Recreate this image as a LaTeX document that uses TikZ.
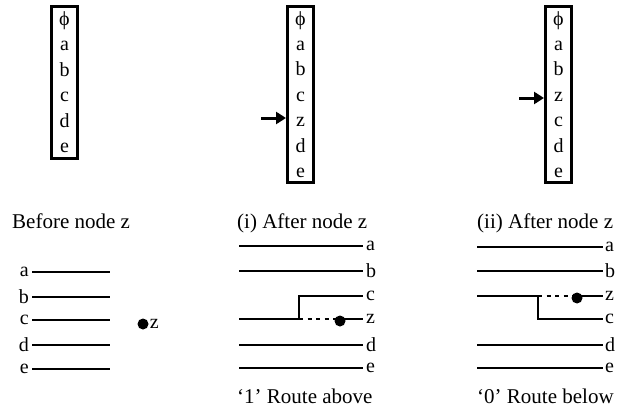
\documentclass[tikz,border=0pt]{standalone}
\usepackage{fontspec}
\setmainfont{Liberation Serif}
\usetikzlibrary{arrows.meta}
\begin{document}
\begin{tikzpicture}[x=1pt,y=-1pt,
  font=\fontsize{20}{22}\selectfont,
  stack/.style={draw,line width=3pt,minimum width=26pt,inner sep=0pt},
  letter/.style={anchor=base,inner sep=0pt},
  wire/.style={line width=2.7pt},
  jump/.style={line width=2.7pt,dash pattern=on 4pt off 4.5pt},
  lbl/.style={inner sep=3pt},
  caption/.style={anchor=base west,inner sep=0pt,font=\fontsize{21}{23}\selectfont},
  pin/.style={-{Triangle[length=10pt,width=12pt]},line width=3pt},
  dot/.style={circle,fill,inner sep=0pt,minimum size=11pt}]
\useasboundingbox (0,0) rectangle (624,412);

% ---- ordering stacks ----
\node[stack,minimum height=151pt] (box1) at (64.5,82.5) {};
\foreach \t/\n/\y in {ϕ/phi/26,a/a/51,b/b/76.5,c/c/101.5,d/d/127,e/e/152}
  \node[letter] (s1\n) at (64.5,\y) {\t};

\node[stack,minimum height=175pt] (box2) at (300.5,94.5) {};
\foreach \t/\n/\y in {ϕ/phi/25.5,a/a/50.5,b/b/76,c/c/101,z/z/126.5,d/d/152,e/e/177}
  \node[letter] (s2\n) at (300.5,\y) {\t};
\coordinate (t2) at (261,118);
\draw[pin] (t2) -- (t2 -| box2.west);

\node[stack,minimum height=175pt] (box3) at (558.5,94.5) {};
\foreach \t/\n/\y in {ϕ/phi/25.5,a/a/50.5,b/b/76,z/z/101,c/c/126.5,d/d/152,e/e/177}
  \node[letter] (s3\n) at (558.5,\y) {\t};
\coordinate (t3) at (519,98);
\draw[pin] (t3) -- (t3 -| box3.west);

% ---- before node z ----
\node[caption] (capA) at (12,228) {Before node z};
\foreach \n/\y in {a/272,b/297,c/320,d/345,e/369}{
  \coordinate (l\n) at (32,\y);
  \coordinate (r\n) at (110,\y);
  \node[lbl,anchor=east] (L\n) at (l\n) {\n};
  \draw[wire] (l\n) -- (r\n);
}
\node[dot] (zdot) at (143,324) {};
\node[lbl,anchor=west,inner sep=1pt] (zlbl) at (zdot.east) {z};

% ---- (i) after node z: route above ----
\node[caption] (capB) at (237,228) {(i) After node z};
\foreach \n/\y in {a/246,b/271,c/296,z/319,d/345,e/368}{
  \coordinate (ml\n) at (239,\y);
  \coordinate (mr\n) at (363,\y);
  \node[lbl,anchor=west] (M\n) at (mr\n) {\n};
}
\foreach \n in {a,b,d,e} \draw[wire] (ml\n) -- (mr\n);
\coordinate (mk) at (299,319);
\node[dot] (mdot) at (340,321) {};
\draw[wire] (mlz) -- (mk) |- (mrc);
\draw[jump] (mk) -- (mk -| mdot);
\draw[wire] (mk -| mdot) -- (mrz);

\node[caption] (capC) at (237,403) {‘1’ Route above};

% ---- (ii) after node z: route below ----
\node[caption] (capD) at (477,228) {(ii) After node z};
\foreach \n/\y in {a/247,b/271,z/296,c/319,d/345,e/368}{
  \coordinate (rl\n) at (477,\y);
  \coordinate (rr\n) at (603,\y);
  \node[lbl,anchor=west,inner sep=2pt] (R\n) at (rr\n) {\n};
}
\foreach \n in {a,b,d,e} \draw[wire] (rl\n) -- (rr\n);
\coordinate (rk) at (538,296);
\node[dot] (rdot) at (577,298) {};
\draw[wire] (rlz) -- (rk) |- (rrc);
\draw[jump] (rk) -- (rk -| rdot);
\draw[wire] (rk -| rdot) -- (rrz);
\node[caption] (capE) at (477,403) {‘0’ Route below};
\end{tikzpicture}
\end{document}
